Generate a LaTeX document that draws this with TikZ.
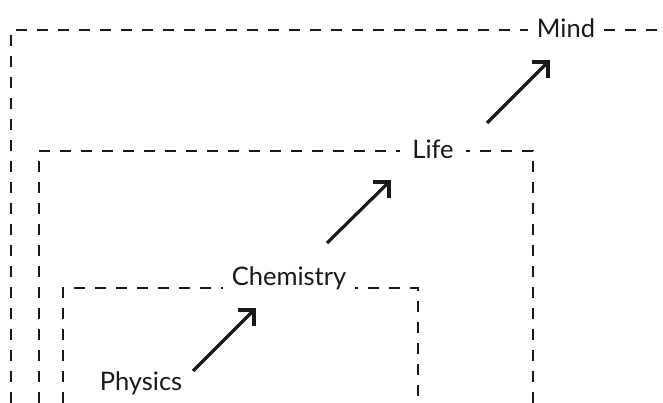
\documentclass[tikz,border=0pt]{standalone}
\usepackage{fontspec}
\setmainfont{Lato}
\begin{document}
\begin{tikzpicture}[x=1pt,y=-1pt,
  box/.style={line width=1.6pt, dash pattern=on 11pt off 10pt, color=black!90},
  lbl/.style={font=\fontsize{25.5}{28}\selectfont, fill=white, inner xsep=9pt, inner ysep=2pt, text=black!90},
  shaft/.style={line width=3.2pt, color=black!90},
  head/.style={line width=3.8pt, color=black!90, line join=miter, line cap=butt}]
\useasboundingbox (0,0) rectangle (663,403);
% boxes
\draw[box] (11,403) -- (11,30) -- (663,30);
\draw[box] (39,403) -- (39,151) -- (533,151) -- (533,403);
\draw[box] (63,403) -- (63,288) -- (418,288) -- (418,403);
% labels
\node[lbl] (mind) at (566,28) {Mind};
\node[lbl, inner xsep=12pt] (life) at (433,149) {Life};
\node[lbl] (chem) at (289,278) {Chemistry};
\node[lbl, fill=none] (phys) at (141,383) {Physics};
% arrow end points
\coordinate (a1s) at (193,371);
\coordinate (a1e) at (254,310);
\coordinate (a2s) at (327,243);
\coordinate (a2e) at (389,182);
\coordinate (a3s) at (487,123);
\coordinate (a3e) at (548,62);
\foreach \s/\e in {a1s/a1e, a2s/a2e, a3s/a3e}{
  \draw[shaft] (\s) -- ([shift={(-1,1)}]\e);
  \draw[head] ([shift={(-16,0)}]\e) -- (\e) -- ([shift={(0,16)}]\e);
}
\end{tikzpicture}
\end{document}
